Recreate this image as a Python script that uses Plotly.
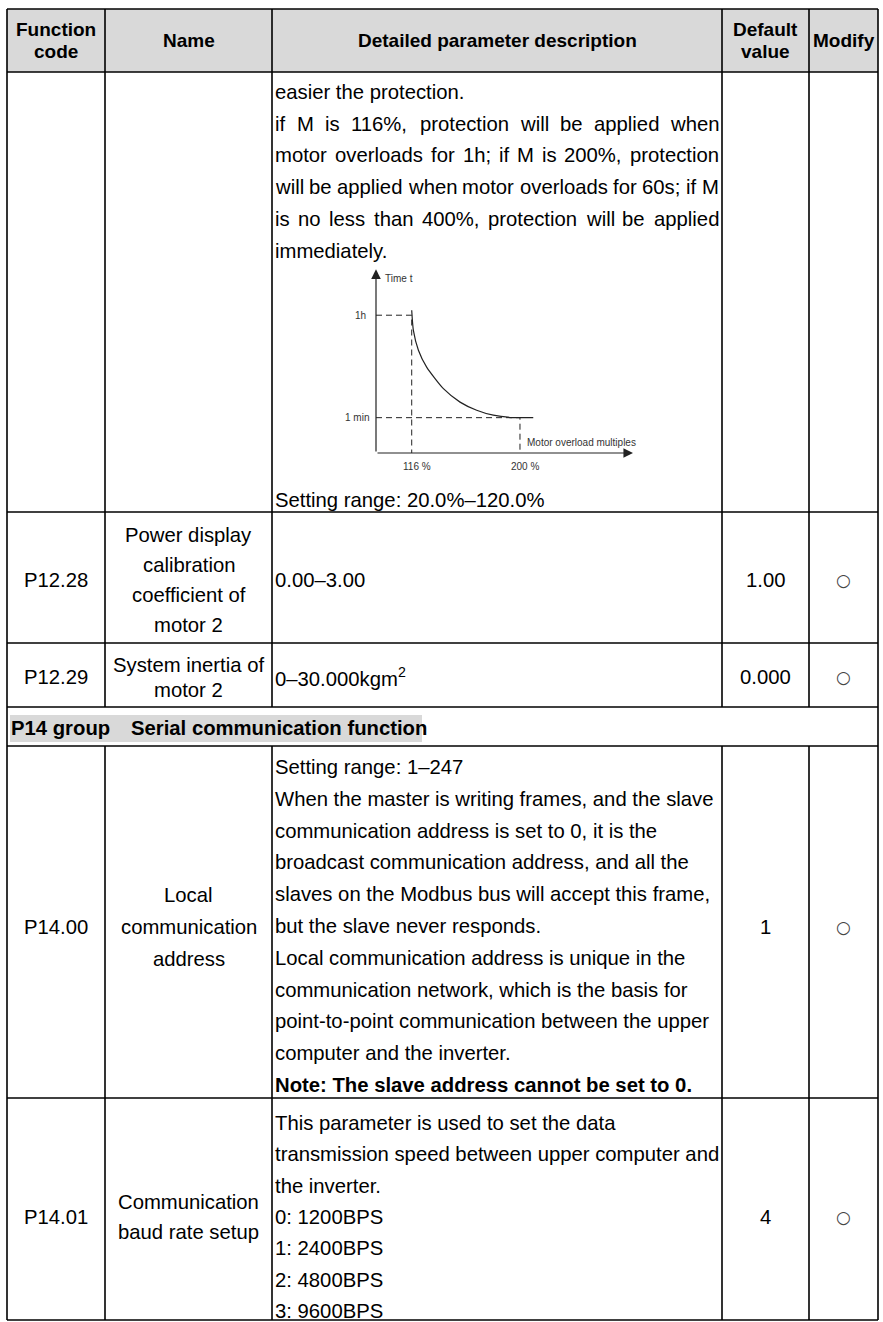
import plotly.graph_objects as go

W, H = 883, 1322
FONT = "Liberation Sans, Arial, sans-serif"
FS = 20.3

# ---- table content ----
headers = [["Function", "code"], ["Name"], ["Detailed parameter description"], ["Default", "value"], ["Modify"]]
codes = ["", "P12.28", "P12.29", "P14.00", "P14.01"]
names = [[],
         ["Power display", "calibration", "coefficient of", "motor 2"],
         ["System inertia of", "motor 2"],
         ["Local", "communication", "address"],
         ["Communication", "baud rate setup"]]
defaults = ["", "1.00", "0.000", "1", "4"]
modify = ["", "○", "○", "○", "○"]

desc_top = ["easier the protection.",
            "if M is 116%, protection will be applied when",
            "motor overloads for 1h; if M is 200%, protection",
            "will be applied when motor overloads for 60s; if M",
            "is no less than 400%, protection will be applied",
            "immediately."]
desc_top_just = [False, True, True, True, True, False]
desc_top_range = "Setting range: 20.0%–120.0%"
desc_p1228 = ["0.00–3.00"]
desc_p1229 = ["0–30.000kgm<sup>2</sup>"]
group_code = "P14 group"
group_title = "Serial communication function"
desc_p1400 = ["Setting range: 1–247",
              "When the master is writing frames, and the slave",
              "communication address is set to 0, it is the",
              "broadcast communication address, and all the",
              "slaves on the Modbus bus will accept this frame,",
              "but the slave never responds.",
              "Local communication address is unique in the",
              "communication network, which is the basis for",
              "point-to-point communication between the upper",
              "computer and the inverter.",
              "<b>Note: The slave address cannot be set to 0.</b>"]
desc_p1401 = ["This parameter is used to set the data",
              "transmission speed between upper computer and",
              "the inverter.",
              "0: 1200BPS",
              "1: 2400BPS",
              "2: 4800BPS",
              "3: 9600BPS"]

# ---- overload curve (inset) ----
curve_x = [116, 117.3, 121.2, 127.6, 140.6, 153.5, 166.4, 179.3, 194.8, 200, 210.3]
curve_y = [4.04, 3.47, 2.91, 2.43, 1.82, 1.44, 1.21, 1.07, 1.0, 1.0, 1.0]
level_1h = 3.9
level_1min = 1.0
mark_x = [116, 200]
mark_labels = ["116 %", "200 %"]

# ---- layout geometry (pixels) ----
col_x = [7, 105, 272, 722, 809, 878]
row_y = [9, 72, 512, 643, 707, 746, 1098, 1320]
mid_y = [0, 580, 677, 927, 1217]
name_step = [0, 30, 25, 32, 30]
GROUP = 4

ARIAL = {' ': 278, '!': 278, '%': 889, ',': 278, '-': 333, '.': 278, ':': 278, ';': 278,
         'M': 833, 'I': 278}
for c in '0123456789':
    ARIAL[c] = 556
ARIAL.update(dict(a=556, b=556, c=500, d=556, e=556, f=278, g=556, h=556, i=222, j=222,
                  k=500, l=222, m=833, n=556, o=556, p=556, q=556, r=333, s=500, t=278,
                  u=556, v=500, w=722, x=500, y=500, z=500))


def tw(s, size=FS):
    return sum(ARIAL.get(ch, 556) for ch in s) * size / 1000


ann = []
shapes = []


def txt(x, y, s, anchor="left", size=FS, color="black", xref="x", yref="y", family=FONT, **kw):
    d = dict(x=x, y=y, xref=xref, yref=yref, text=s, showarrow=False, xanchor=anchor,
             yanchor="middle", borderpad=0, borderwidth=0,
             font=dict(family=family, size=size, color=color))
    d.update(kw)
    ann.append(d)


def stack(xc, cy, lines, step, bold=False, size=FS):
    n = len(lines)
    for i, s in enumerate(lines):
        if bold:
            s = "<b>" + s + "</b>"
        txt(xc, cy + (i - (n - 1) / 2) * step, s, anchor="center", size=size)


def justified(x0, x1, y, line):
    words = line.split(" ")
    widths = [tw(w) for w in words]
    gap = (x1 - x0 - sum(widths)) / (len(words) - 1)
    x = x0
    for w, ww in zip(words, widths):
        txt(x, y, w)
        x += ww + gap


# header background + group highlight
shapes.append(dict(type="rect", xref="x", yref="y", x0=col_x[0], x1=col_x[-1], y0=row_y[0], y1=row_y[1],
                   fillcolor="#d9d9d9", line_width=0, layer="below"))
shapes.append(dict(type="rect", xref="x", yref="y", x0=10, x1=422, y0=715, y1=742,
                   fillcolor="#d9d9d9", line_width=0, layer="below"))

# grid lines
for y in row_y:
    shapes.append(dict(type="line", xref="x", yref="y", x0=col_x[0], x1=col_x[-1], y0=y, y1=y,
                       line=dict(color="black", width=1.6)))
for j, x in enumerate(col_x):
    for r in range(len(row_y) - 1):
        if r == GROUP and 0 < j < len(col_x) - 1:
            continue
        shapes.append(dict(type="line", xref="x", yref="y", x0=x, x1=x, y0=row_y[r], y1=row_y[r + 1],
                           line=dict(color="black", width=1.6)))

# header text
hc = (row_y[0] + row_y[1]) / 2
for j, h in enumerate(headers):
    stack((col_x[j] + col_x[j + 1]) / 2, hc, h, 22, bold=True, size=19)

# body rows
cx = [(col_x[j] + col_x[j + 1]) / 2 for j in range(5)]
for k in range(1, 5):
    cy = mid_y[k]
    txt(cx[0], cy, codes[k], anchor="center")
    stack(cx[1], cy, names[k], name_step[k])
    txt(cx[3], cy, defaults[k], anchor="center")
    txt(cx[4], cy, modify[k], anchor="center", color="#444444", size=17, family="DejaVu Sans")

dx0 = col_x[2] + 3
dx1 = col_x[3] - 3
for i, (line, j) in enumerate(zip(desc_top, desc_top_just)):
    y = 92 + i * 31.7
    if j:
        justified(dx0, dx1, y, line)
    else:
        txt(dx0, y, line)
txt(dx0, 500, desc_top_range)
txt(dx0, mid_y[1], desc_p1228[0])
txt(dx0, mid_y[2], desc_p1229[0])
for i, line in enumerate(desc_p1400):
    txt(dx0, 767 + i * 31.8, line)
for i, line in enumerate(desc_p1401):
    txt(dx0, 1123 + i * 31.3, line)

# group row
txt(11, 728, "<b>" + group_code + "</b>")
txt(131, 728, "<b>" + group_title + "</b>")

# ---- inset chart ----
X0, X1 = 88.3, 292.0
Y0, Y1 = 0.0, 5.3
px_per_x = 1.289
px_per_y = 35.33
ax_left, ax_bottom = 376, 453
dom_x = [ax_left / W, (ax_left + (X1 - X0) * px_per_x) / W]
dom_y = [1 - ax_bottom / H, 1 - (ax_bottom - (Y1 - Y0) * px_per_y) / H]

fig = go.Figure()
fig.add_trace(go.Scatter(x=[0], y=[0], mode="markers", marker_opacity=0, showlegend=False, hoverinfo="skip"))

dash = "6px,4px"
ink = "#222222"
fig.add_trace(go.Scatter(x=[X0, mark_x[0], mark_x[0]], y=[level_1h, level_1h, 0], mode="lines",
                         line=dict(color=ink, width=1, dash=dash), xaxis="x2", yaxis="y2", showlegend=False))
fig.add_trace(go.Scatter(x=[X0, mark_x[1], mark_x[1]], y=[level_1min, level_1min, 0], mode="lines",
                         line=dict(color=ink, width=1, dash=dash), xaxis="x2", yaxis="y2", showlegend=False))
fig.add_trace(go.Scatter(x=curve_x, y=curve_y, mode="lines", line=dict(color=ink, width=1.2, shape="spline", smoothing=0.6),
                         xaxis="x2", yaxis="y2", showlegend=False))

# axes with arrows
ann.append(dict(x=287.7, y=0, ax=X0, ay=0, xref="x2", yref="y2", axref="x2", ayref="y2", text="",
                showarrow=True, arrowhead=2, arrowsize=1.6, arrowwidth=1.2, arrowcolor=ink))
ann.append(dict(x=X0, y=5.2, ax=X0, ay=0, xref="x2", yref="y2", axref="x2", ayref="y2", text="",
                showarrow=True, arrowhead=2, arrowsize=1.6, arrowwidth=1.2, arrowcolor=ink))

small = 10
for xv, lab in zip(mark_x, mark_labels):
    txt(xv + 4, 0, lab, anchor="center", size=small, color="#333333", xref="x2", yref="y2", yshift=-13)
txt(X0, level_1h, "1h", anchor="right", size=small, color="#333333", xref="x2", yref="y2", xshift=-10)
txt(X0, level_1min, "1 min", anchor="right", size=small, color="#333333", xref="x2", yref="y2", xshift=-7)
txt(X0, 4.95, "Time t", anchor="left", size=small, color="#333333", xref="x2", yref="y2", xshift=9)
txt(205.2, 0.29, "Motor overload multiples", anchor="left", size=small, color="#333333", xref="x2", yref="y2")

fig.update_layout(
    width=W, height=H, margin=dict(l=0, r=0, t=0, b=0),
    paper_bgcolor="white", plot_bgcolor="rgba(0,0,0,0)",
    xaxis=dict(range=[0, W], visible=False, domain=[0, 1], fixedrange=True),
    yaxis=dict(range=[H, 0], visible=False, domain=[0, 1], fixedrange=True),
    xaxis2=dict(range=[X0, X1], domain=dom_x, anchor="y2", visible=False),
    yaxis2=dict(range=[Y0, Y1], domain=dom_y, anchor="x2", visible=False),
    shapes=shapes, annotations=ann, showlegend=False,
)

fig.write_html("out.html", config={"displayModeBar": False},
               post_script="document.body.style.margin='0';")
